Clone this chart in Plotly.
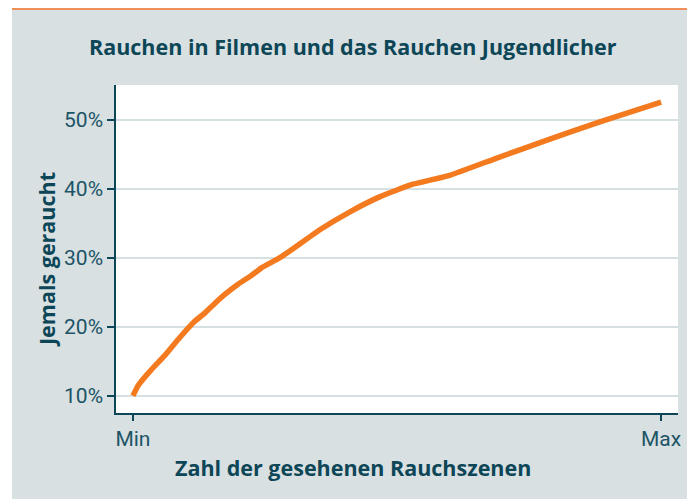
import plotly.graph_objects as go

# Anteil der gesehenen Rauchszenen (0 = Min, 1 = Max) und Anteil "jemals geraucht" in %
x_anteil = [0.0, 0.010, 0.035, 0.061, 0.086, 0.117, 0.136, 0.155, 0.174, 0.199, 0.225,
            0.244, 0.275, 0.297, 0.354, 0.411, 0.468, 0.530, 0.600, 0.689, 0.784, 0.884, 1.0]
y_prozent = [10.0, 11.5, 13.8, 15.9, 18.2, 20.8, 22.0, 23.4, 24.7, 26.2, 27.5,
             28.6, 29.9, 31.0, 34.1, 36.7, 38.9, 40.7, 42.0, 44.5, 47.1, 49.75, 52.6]

x_ticks = [0, 1]
x_ticktext = ["Min", "Max"]
y_ticks = [10, 20, 30, 40, 50]
y_ticktext = ["10%", "20%", "30%", "40%", "50%"]

grau = "#d8e0e2"
teal = "#0c4657"
teal_hell = "#1d5466"
orange = "#f47a20"

# die Seite hat 8px Rand, darum ist die Figur 8px kleiner
W, H = 687, 491
L, R, T, B = 108, 17, 77, 86
pw, ph = W - L - R, H - T - B


def px_x(p):
    return (p - L) / pw


def px_y(p):
    return (H - B - p) / ph


fig = go.Figure()
fig.add_trace(go.Scatter(
    x=x_anteil, y=y_prozent, mode="lines",
    line=dict(color=orange, width=5.5, shape="spline", smoothing=0.4),
    hoverinfo="skip"
))

shapes = [
    # weisser Streifen links
    dict(type="rect", xref="paper", yref="paper", x0=px_x(0), x1=px_x(4),
         y0=px_y(H), y1=px_y(0), fillcolor="white", line_width=0, layer="below"),
    # orange Linie oben
    dict(type="rect", xref="paper", yref="paper", x0=px_x(4), x1=px_x(W),
         y0=px_y(2), y1=px_y(0), fillcolor="#ee8f58", line_width=0, layer="below"),
]

titelfont = dict(family="Open Sans", size=21.5, color=teal)
annotations = [
    dict(text="<b>Rauchen in Filmen und das Rauchen Jugendlicher</b>",
         xref="paper", yref="paper", x=px_x(345), y=px_y(38), showarrow=False,
         font=titelfont, xanchor="center", yanchor="middle"),
    dict(text="<b>Zahl der gesehenen Rauchszenen</b>",
         xref="paper", yref="paper", x=px_x(345), y=px_y(459), showarrow=False,
         font=titelfont, xanchor="center", yanchor="middle"),
    dict(text="<b>Jemals geraucht</b>", textangle=-90,
         xref="paper", yref="paper", x=px_x(39), y=px_y(252), showarrow=False,
         font=titelfont, xanchor="center", yanchor="middle"),
]

tickfont = dict(family="Roboto", size=21, color=teal_hell)

fig.update_layout(
    width=W, height=H,
    margin=dict(l=L, r=R, t=T, b=B),
    paper_bgcolor=grau,
    plot_bgcolor="white",
    showlegend=False,
    shapes=shapes,
    annotations=annotations,
    xaxis=dict(
        range=[-0.032, 1.032], tickvals=x_ticks, ticktext=x_ticktext,
        ticks="outside", ticklen=6, tickwidth=1.5, tickcolor=teal,
        showline=True, linecolor=teal, linewidth=1.5,
        showgrid=False, zeroline=False, fixedrange=True,
        tickfont=tickfont,
    ),
    yaxis=dict(
        range=[7.5, 55.1], tickvals=y_ticks, ticktext=y_ticktext,
        ticks="outside", ticklen=7, tickwidth=1.5, tickcolor=teal,
        showline=True, linecolor=teal, linewidth=1.5,
        showgrid=True, gridcolor="#d6e0e3", gridwidth=1.5, zeroline=False, fixedrange=True,
        tickfont=tickfont,
    ),
)

fig.write_html("out.html")
